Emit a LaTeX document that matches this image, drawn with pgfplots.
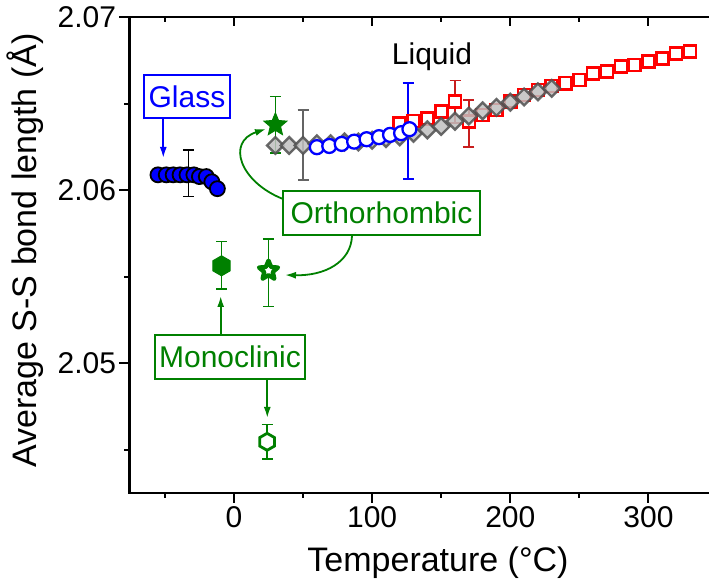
\documentclass[border=0pt]{standalone}
\usepackage{fontspec}
\setmainfont{Liberation Sans}
\usepackage{pgfplots}
\pgfplotsset{compat=1.18}
\usetikzlibrary{arrows.meta}

\definecolor{myblue}{RGB}{0,0,255}
\definecolor{mygreen}{RGB}{0,128,0}
\definecolor{myred}{RGB}{255,0,0}
\definecolor{mygray}{RGB}{192,192,192}
\definecolor{mydgray}{RGB}{80,80,80}
\definecolor{errred}{RGB}{200,30,30}
\definecolor{errgray}{RGB}{100,100,100}

\pgfdeclareplotmark{pstar}{%
  \pgfpathmoveto{\pgfpointpolar{90}{\pgfplotmarksize}}%
  \pgfpathlineto{\pgfpointpolar{126}{0.45\pgfplotmarksize}}%
  \pgfpathlineto{\pgfpointpolar{162}{\pgfplotmarksize}}%
  \pgfpathlineto{\pgfpointpolar{198}{0.45\pgfplotmarksize}}%
  \pgfpathlineto{\pgfpointpolar{234}{\pgfplotmarksize}}%
  \pgfpathlineto{\pgfpointpolar{270}{0.45\pgfplotmarksize}}%
  \pgfpathlineto{\pgfpointpolar{306}{\pgfplotmarksize}}%
  \pgfpathlineto{\pgfpointpolar{342}{0.45\pgfplotmarksize}}%
  \pgfpathlineto{\pgfpointpolar{18}{\pgfplotmarksize}}%
  \pgfpathlineto{\pgfpointpolar{54}{0.45\pgfplotmarksize}}%
  \pgfpathclose
  \pgfusepathqfillstroke
}
\pgfdeclareplotmark{hexa}{%
  \pgfpathmoveto{\pgfpointpolar{90}{\pgfplotmarksize}}%
  \pgfpathlineto{\pgfpointpolar{150}{\pgfplotmarksize}}%
  \pgfpathlineto{\pgfpointpolar{210}{\pgfplotmarksize}}%
  \pgfpathlineto{\pgfpointpolar{270}{\pgfplotmarksize}}%
  \pgfpathlineto{\pgfpointpolar{330}{\pgfplotmarksize}}%
  \pgfpathlineto{\pgfpointpolar{30}{\pgfplotmarksize}}%
  \pgfpathclose
  \pgfusepathqfillstroke
}

\newcommand{\annfont}{\fontsize{30bp}{36bp}\selectfont}
\pgfplotsset{
  ebar/.style={draw=none, mark=none, forget plot,
    error bars/.cd, y dir=both, y explicit,
    error bar style={draw=#1, solid, line width=1.5bp},
    error mark options={rotate=90, mark size=5.5bp, line width=1.5bp, draw=#1}},
}

\begin{document}
\begin{tikzpicture}
\useasboundingbox (0,0) rectangle (709bp,585bp);
\begin{axis}[
  at={(129.5bp,567.5bp)}, anchor=north west,
  scale only axis, width=582.5bp, height=475.5bp,
  xmin=-75.6, xmax=346, ymin=2.0425, ymax=2.07,
  xtick={0,100,200,300}, minor xtick={-50,50,150,250},
  ytick={2.05,2.06,2.07}, minor ytick={2.045,2.055,2.065},
  xtick pos=left, ytick pos=left,
  tick align=outside,
  major tick length=10bp, minor tick length=5bp,
  tick style={line width=2bp, black},
  axis line style={line width=2bp},
  tick label style={font=\fontsize{30bp}{36bp}\selectfont},
  label style={font=\fontsize{34bp}{40bp}\selectfont},
  /pgf/number format/assume math mode=true,
  yticklabel style={/pgf/number format/.cd, fixed, fixed zerofill, precision=2},
  scaled y ticks=false,
  xlabel={Temperature (°C)},
  ylabel={Average S-S bond length (Å)},
  xlabel style={at={(axis description cs:0.5296,-0.166)}, anchor=base},
  ylabel style={at={(axis description cs:-0.1588,0.51)}, anchor=base},
]
% Glass
\addplot[only marks, mark=*, mark size=7.5bp, mark options={draw=black, fill=myblue, line width=1.8bp}] coordinates {
(-55,2.0609) (-49,2.0609) (-44,2.0609) (-39,2.0609) (-34,2.0609) (-29,2.0609) (-25,2.0608) (-20,2.0608) (-16,2.0605) (-12,2.0601)};
\addplot[ebar=black] coordinates {(-33,2.06099) +- (0,0.00135)};
% Liquid red squares
\addplot[only marks, mark=square*, mark size=6bp, mark options={draw=myred, fill=white, line width=2.6bp}] coordinates {
(120,2.06388) (130,2.06402) (140,2.06417) (150,2.06455) (160,2.06513) (170,2.0640) (180,2.06436) (190,2.06465)
(200,2.06513) (210,2.06552) (220,2.06581) (230,2.06604) (240,2.06620) (250,2.06639) (260,2.06677) (270,2.06687)
(280,2.06716) (290,2.06725) (300,2.06745) (310,2.06764) (320,2.06793) (330,2.06802)};
% Liquid gray diamonds
\addplot[only marks, mark=square*, mark size=5.9bp, mark options={rotate=45, draw=mydgray, fill=mygray, line width=2.4bp, opacity=0.85}] coordinates {
(30,2.0626) (40,2.0626) (50,2.0626) (60,2.0627) (70,2.0627) (80,2.0628) (90,2.0628) (100,2.0629) (110,2.0630) (120,2.0631)
(130,2.0633) (140,2.0635) (150,2.0637) (160,2.0640) (170,2.0643) (180,2.0646) (190,2.0648) (200,2.0651) (210,2.0654) (220,2.0657) (230,2.0659)};
% Liquid blue open circles
\addplot[only marks, mark=*, mark size=7bp, mark options={draw=myblue, fill=white, line width=2.3bp}] coordinates {
(60,2.06250) (69,2.06257) (78,2.06269) (87,2.06282) (96,2.06296) (105,2.06308) (113,2.06321) (121,2.06331) (127,2.06354)};
% error bars liquid
\addplot[ebar=errred] coordinates {(160,2.06513) +- (0,0.00122) (170,2.06387) +- (0,0.00137)};
\addplot[ebar=errgray] coordinates {(50,2.06263) +- (0,0.00202)};
\addplot[ebar=myblue] coordinates {(126,2.06343) +- (0,0.00277)};
% Orthorhombic filled star
\addplot[only marks, mark=pstar, mark size=12bp, mark options={draw=mygreen, fill=mygreen, line width=1bp}] coordinates {(30,2.06379)};
% Orthorhombic open star
\addplot[only marks, mark=pstar, mark size=10bp, mark options={draw=mygreen, fill=white, line width=4.3bp, line join=round}] coordinates {(25,2.05536)};
% Monoclinic filled hexagon
\addplot[only marks, mark=hexa, mark size=10bp, mark options={draw=mygreen, fill=mygreen, line width=1bp}] coordinates {(-9,2.05564)};
% Monoclinic open hexagon
\addplot[only marks, mark=hexa, mark size=8.5bp, mark options={draw=mygreen, fill=white, line width=2.8bp}] coordinates {(24,2.04546)};
% green error bars
\addplot[ebar=mygreen] coordinates {(30,2.06379) +- (0,0.00163) (-9,2.05568) +- (0,0.00137) (25,2.05524) +- (0,0.00196) (24,2.04546) +- (0,0.00099)};
\end{axis}
% top axis ticks pointing inward
\begin{axis}[
  at={(129.5bp,567.5bp)}, anchor=north west,
  scale only axis, width=582.5bp, height=475.5bp,
  xmin=-75.6, xmax=346, ymin=2.0425, ymax=2.07,
  axis x line*=top, hide y axis,
  xtick={0,100,200,300}, minor xtick={-50,50,150,250}, xticklabels={},
  tick align=inside, major tick length=9bp, minor tick length=5bp,
  tick style={line width=2bp, black},
  axis line style={line width=2bp},
]
\end{axis}
% annotations (pixel coordinates of the picture)
\begin{scope}[x=1bp, y=-1bp, shift={(0bp,585bp)}]
  \node[draw=myblue, line width=2bp, text=myblue, font=\annfont, inner sep=0pt,
        minimum width=86bp, minimum height=43bp, text height=21.5bp, text depth=0bp] at (187,96.5) {Glass};
  \draw[myblue, line width=1.8bp, -{Latex[length=11bp, width=7bp]}] (163.3,118) -- (163.3,158);
  \node[anchor=base, font=\annfont] at (432,65) {Liquid};
  \node[draw=mygreen, line width=2bp, text=mygreen, font=\annfont, inner sep=0pt,
        minimum width=197bp, minimum height=44bp, text height=21.5bp, text depth=0bp] at (381.5,213) {Orthorhombic};
  \draw[mygreen, line width=1.8bp, -{Latex[length=11bp, width=7bp]}] (283,199) .. controls (240,182) and (226,142) .. (266,129);
  \draw[mygreen, line width=1.8bp, -{Latex[length=11bp, width=7bp]}] (352,236) .. controls (351,262) and (325,276) .. (285,275);
  \node[draw=mygreen, line width=2bp, text=mygreen, font=\annfont, inner sep=0pt,
        minimum width=150bp, minimum height=44bp, text height=21.5bp, text depth=0bp] at (230,357) {Monoclinic};
  \draw[mygreen, line width=1.8bp, -{Latex[length=11bp, width=7bp]}] (220.7,335) -- (220.7,296);
  \draw[mygreen, line width=1.8bp, -{Latex[length=11bp, width=7bp]}] (267.3,379) -- (267.3,418);
\end{scope}
\end{tikzpicture}
\end{document}
